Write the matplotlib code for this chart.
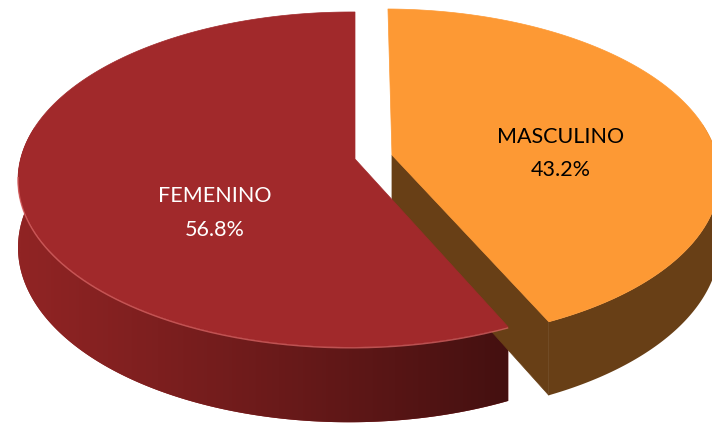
import numpy as np
import matplotlib
matplotlib.use("Agg")
import matplotlib.pyplot as plt
from matplotlib.patches import Polygon
from matplotlib.colors import LinearSegmentedColormap

# ---- data ----
categories = ["FEMENINO", "MASCULINO"]
values = [56.8, 43.2]
top_colors = ["#A1292B", "#FD9934"]
side_colors = [("#902424", "#441010"), ("#683F16", "#683F16")]
label_colors = ["white", "black"]
explode = [0.0, 0.115]

# ---- layout / projection ----
W, H = 712, 424
fig = plt.figure(figsize=(W / 100, H / 100), dpi=100)
ax = fig.add_axes([0, 0, 1, 1])
ax.set_xlim(0, W)
ax.set_ylim(H, 0)
ax.axis("off")

CX, CY = 355, 159
A, B = 330.4, 165
P, Q = 0.1224, 0.012
DEPTH = 66


def proj(u, v):
    D = 1 - P * v + Q * u
    return CX + A * u / D, CY + B * v / D, DEPTH / D


fracs = np.array(values) / np.sum(values)
start = 360 - fracs[0] * 360  # first slice ends at 12 o'clock, going clockwise
bounds = start + np.concatenate([[0], np.cumsum(fracs) * 360])

slices = []
for i in range(len(values)):
    t0, t1 = bounds[i], bounds[i + 1]
    mid = np.radians((t0 + t1) / 2)
    eu, ev = explode[i] * np.sin(mid), -explode[i] * np.cos(mid)
    th = np.radians(np.linspace(t0, t1, 400))
    u = eu + np.sin(th)
    v = ev - np.cos(th)
    x, y, d = proj(u, v)
    vx, vy, vd = proj(eu, ev)
    slices.append(dict(th=th, x=x, y=y, d=d, vx=vx, vy=vy, vd=vd))


def draw_slice(i):
    s = slices[i]
    c0, c1 = side_colors[i]
    x, y, d, th = s["x"], s["y"], s["d"], s["th"]
    vis = -np.cos(th) > -0.2
    xs, ys, ds = x[vis], y[vis], d[vis]
    # outer curved side as one band, filled with a horizontal gradient
    band = list(zip(xs, ys)) + list(zip(xs[::-1], (ys + ds)[::-1]))
    patch = Polygon(band, closed=True, facecolor=c0, edgecolor="none")
    ax.add_patch(patch)
    if c0 != c1:
        cmap = LinearSegmentedColormap.from_list("side", [c0, c1])
        x0, x1 = xs.min(), xs.max()
        grad = np.linspace(0, 1, 256)[None, :] ** 1.1
        im = ax.imshow(grad, cmap=cmap, extent=(x0, x1, (ys + ds).max() + 2, ys.min() - 2),
                       aspect="auto", interpolation="bilinear", zorder=patch.get_zorder())
        im.set_clip_path(patch)
    # radial face at the clockwise end (faces the viewer for the exploded slice)
    if i == 1:
        quad = [(s["vx"], s["vy"]), (x[-1], y[-1]), (x[-1], y[-1] + d[-1]), (s["vx"], s["vy"] + s["vd"])]
        ax.add_patch(Polygon(quad, closed=True, facecolor=c0, edgecolor=c0, lw=0.5, zorder=2))
    # top surface
    top = [(s["vx"], s["vy"])] + list(zip(x, y))
    ax.add_patch(Polygon(top, closed=True, facecolor=top_colors[i], edgecolor=top_colors[i], lw=0.5, zorder=2))
    if i == 0:
        mask = (-np.cos(th) > 0.1)
        ax.plot(x[mask], y[mask] + 0.8, color=(0.86, 0.40, 0.40), lw=1.0, alpha=0.75,
                solid_capstyle="butt", zorder=2)


draw_slice(1)
draw_slice(0)

label_pos = [(215, 196, 230), (561, 137, 170)]
for i, (lx, ly1, ly2) in enumerate(label_pos):
    ax.text(lx, ly1, categories[i], ha="center", va="center", fontsize=15.5, family="Lato",
            color=label_colors[i], zorder=5)
    ax.text(lx, ly2, f"{values[i]:.1f}%", ha="center", va="center", fontsize=15.5, family="Lato",
            color=label_colors[i], zorder=5)

fig.savefig("out.png", dpi=100)
